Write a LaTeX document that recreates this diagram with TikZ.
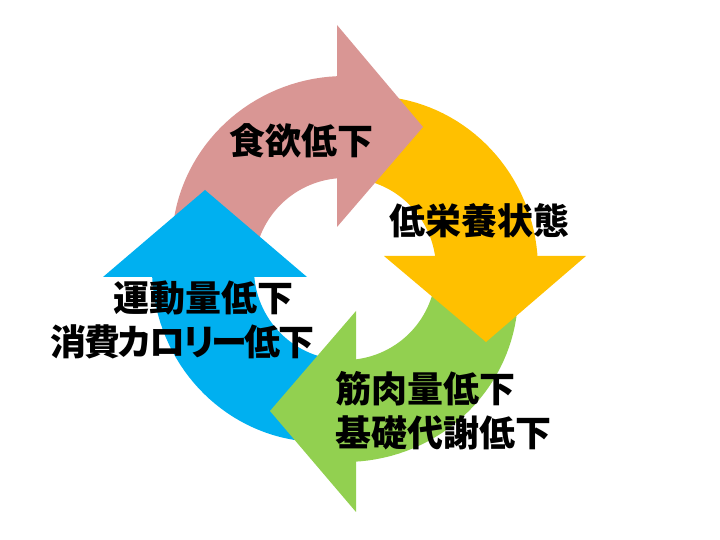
\documentclass[tikz,border=0pt]{standalone}
\usepackage{fontspec}
\newfontfamily\jpfont[RawFeature=+palt]{Noto Sans CJK JP}
\definecolor{appetite}{HTML}{D99694}
\definecolor{nutrition}{HTML}{FFC000}
\definecolor{muscle}{HTML}{92D050}
\definecolor{activity}{HTML}{00B0F0}

\begin{document}
\begin{tikzpicture}
[
x=1pt, y=1pt,
every node/.style={font=\jpfont\bfseries\fontsize{36}{44}\selectfont, inner sep=0pt},
body/.style={samples=40}
]
\useasboundingbox (0,0) rectangle (720,540);

% ring pieces
\fill[appetite] plot[body, domain=180:90] ({345+(193-22*((\x-90)/90)^2)*cos(\x)}, {271+(193-22*((\x-90)/90)^2)*sin(\x)})
  -- plot[body, domain=90:180] ({345+91*cos(\x)}, {271+91*sin(\x)}) -- cycle;
\fill[nutrition] plot[body, domain=90:0] ({345+(193-22*(\x/90)^2)*cos(\x)}, {271+(193-22*(\x/90)^2)*sin(\x)})
  -- plot[body, domain=0:90] ({345+91*cos(\x)}, {271+91*sin(\x)}) -- cycle;
\fill[muscle] plot[body, domain=0:-90] ({345+(193-22*((\x+90)/90)^2)*cos(\x)}, {271+(193-22*((\x+90)/90)^2)*sin(\x)})
  -- plot[body, domain=-90:0] ({345+91*cos(\x)}, {271+91*sin(\x)}) -- cycle;
\fill[activity] plot[body, domain=-90:-180] ({345+(193-22*((\x+180)/90)^2)*cos(\x)}, {271+(193-22*((\x+180)/90)^2)*sin(\x)})
  -- plot[body, domain=-180:-90] ({345+91*cos(\x)}, {271+91*sin(\x)}) -- cycle;

% heads
\fill[appetite] (337,515) -- (337,313) -- (423,413) -- cycle;
\fill[nutrition] (384,284) -- (586,284) -- (486,198) -- cycle;
\fill[muscle] (356,229) -- (356,28) -- (270,129) -- cycle;
\fill[activity] (103,263) -- (307,263) -- (205,350) -- cycle;

\node (appetitetext) at (301,399) {食欲低下};
\node (nutritiontext) at (479.5,319) {低栄養状態};
\node[align=left, anchor=west] (muscletext) at (335,129.5) {筋肉量低下\\基礎代謝低下};
\node[align=center] (activitytext) at (182.5,220) {\hspace*{42pt}運動量低下\\{\addfontfeature{LetterSpace=-6.5}消費カロリー低下}};
\end{tikzpicture}
\end{document}
